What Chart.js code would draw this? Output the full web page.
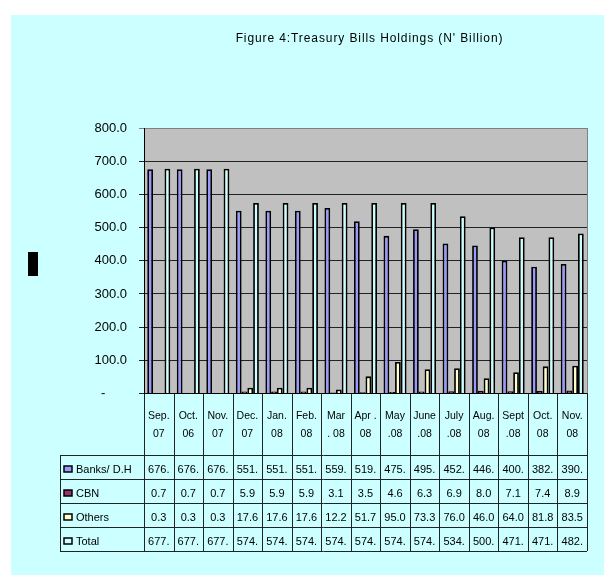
<!DOCTYPE html>
<html>
<head>
<meta charset="utf-8">
<script src="https://cdn.jsdelivr.net/npm/chart.js@4.4.1/dist/chart.umd.min.js"></script>
<style>
  body { margin: 0; background: #fff; }
  canvas { display: block; }
</style>
</head>
<body>
<canvas id="tbChart" width="604" height="575"></canvas>
<script>
// months as shown under the bars (two lines each)
const months = [
  ['Sep.', '07'], ['Oct.', '06'], ['Nov.', '07'], ['Dec.', '07'], ['Jan.', '08'],
  ['Feb.', '08'], ['Mar', '. 08'], ['Apr .', '08'], ['May', '.08'], ['June', '.08'],
  ['July', '.08'], ['Aug.', '08'], ['Sept', '.08'], ['Oct.', '08'], ['Nov.', '08']
];
const banksDH = [676, 676, 676, 551, 551, 551, 559, 519, 475, 495, 452, 446, 400, 382, 390];
const cbn = [0.7, 0.7, 0.7, 5.9, 5.9, 5.9, 3.1, 3.5, 4.6, 6.3, 6.9, 8.0, 7.1, 7.4, 8.9];
const others = [0.3, 0.3, 0.3, 17.6, 17.6, 17.6, 12.2, 51.7, 95.0, 73.3, 76.0, 46.0, 64.0, 81.8, 83.5];
const total = [677, 677, 677, 574, 574, 574, 574, 574, 574, 574, 534, 500, 471, 471, 482];

const seriesNames = ['Banks/ D.H', 'CBN', 'Others', 'Total'];
const seriesColors = ['#9999FF', '#993366', '#FFFFCC', '#CCFFFF'];
// table shows banks and total cut off after the point
const seriesFormat = [v => v + '.', v => v.toFixed(1), v => v.toFixed(1), v => v + '.'];

const titleText = "Figure 4:Treasury Bills Holdings (N' Billion)";
const FONT = "'Liberation Sans', Arial, sans-serif";

const HEADER_H = 61.5;
const ROW_H = 24;
const TABLE_LEFT = 60;

const tablePlugin = {
  id: 'dataTable',
  beforeDraw(chart) {
    const { ctx, chartArea: a } = chart;
    ctx.save();
    ctx.fillStyle = '#fff';
    ctx.fillRect(0, 0, chart.width, chart.height);
    ctx.fillStyle = '#CCFFFF';
    ctx.fillRect(11, 15, chart.width - 11, chart.height - 15);
    ctx.fillStyle = '#C0C0C0';
    ctx.fillRect(a.left, a.top, a.right - a.left, a.bottom - a.top);
    ctx.restore();
  },
  afterDraw(chart) {
    const { ctx, chartArea: a } = chart;
    const xs = chart.scales.x;
    const n = months.length;
    const w = (xs.right - xs.left) / n;
    const top = a.bottom + HEADER_H;
    const bottom = top + ROW_H * seriesNames.length;

    ctx.save();

    // right plot border
    ctx.strokeStyle = '#808080';
    ctx.lineWidth = 1;
    ctx.beginPath();
    ctx.moveTo(a.right + 0.5, a.top);
    ctx.lineTo(a.right + 0.5, a.bottom);
    ctx.stroke();

    // table grid
    ctx.strokeStyle = '#222';
    ctx.beginPath();
    for (let i = 0; i <= n; i++) {
      const x = Math.round(xs.left + i * w) + 0.5;
      ctx.moveTo(x, a.bottom);
      ctx.lineTo(x, bottom);
    }
    ctx.moveTo(TABLE_LEFT + 0.5, top);
    ctx.lineTo(TABLE_LEFT + 0.5, bottom);
    for (let r = 0; r <= seriesNames.length; r++) {
      const y = Math.round(top + r * ROW_H) + 0.5;
      ctx.moveTo(TABLE_LEFT, y);
      ctx.lineTo(xs.right, y);
    }
    ctx.stroke();

    ctx.font = '11px ' + FONT;
    ctx.textBaseline = 'middle';
    chart.data.datasets.forEach((ds, r) => {
      const cy = top + r * ROW_H + ROW_H / 2 + 3;
      // legend key
      ctx.fillStyle = ds.backgroundColor;
      ctx.fillRect(64, cy - 4, 8, 6);
      ctx.strokeStyle = '#000';
      ctx.lineWidth = 1.5;
      ctx.strokeRect(64, cy - 4, 8, 6);
      ctx.fillStyle = '#000';
      ctx.textAlign = 'left';
      ctx.fillText(ds.label, 76, cy);
      ctx.textAlign = 'center';
      ds.data.forEach((v, i) => {
        ctx.fillText(seriesFormat[r](v), xs.getPixelForValue(i), cy);
      });
    });

    // title
    ctx.font = '12px ' + FONT;
    ctx.letterSpacing = '0.9px';
    ctx.textAlign = 'center';
    ctx.fillStyle = '#000';
    ctx.fillText(titleText, (a.left + a.right) / 2 + 4, 39);

    // stray black block at the left edge of the original
    ctx.fillRect(28, 252, 10, 24);
    ctx.restore();
  }
};

new Chart(document.getElementById('tbChart'), {
  type: 'bar',
  data: {
    labels: months,
    datasets: [banksDH, cbn, others, total].map((data, i) => ({
      label: seriesNames[i],
      data: data,
      backgroundColor: seriesColors[i],
      borderColor: '#000',
      borderWidth: 1.8,
      categoryPercentage: 0.78,
      barPercentage: 1.0
    }))
  },
  options: {
    responsive: false,
    animation: false,
    devicePixelRatio: 1,
    layout: { padding: { top: 128, right: 17, bottom: 120, left: 0 } },
    plugins: {
      legend: { display: false },
      title: { display: false },
      tooltip: { enabled: false }
    },
    scales: {
      x: {
        grid: { display: false, drawTicks: false },
        border: { display: true, color: '#000', width: 1 },
        ticks: {
          color: '#000',
          font: { family: FONT, size: 10.5, lineHeight: 1.7 },
          padding: 14,
          maxRotation: 0,
          autoSkip: false
        },
        afterFit(scale) { scale.height = HEADER_H; }
      },
      y: {
        min: 0,
        max: 800,
        ticks: {
          stepSize: 100,
          color: '#000',
          font: { family: FONT, size: 13 },
          padding: 12,
          callback: v => (v === 0 ? '-      ' : v.toFixed(1))
        },
        grid: {
          color: c => (c.tick && c.tick.value === 800 ? '#808080' : '#222'),
          tickLength: 5,
          lineWidth: 1
        },
        border: { display: true, color: '#000', width: 1 },
        afterFit(scale) { scale.width = 144; }
      }
    }
  },
  plugins: [tablePlugin]
});
</script>
</body>
</html>
